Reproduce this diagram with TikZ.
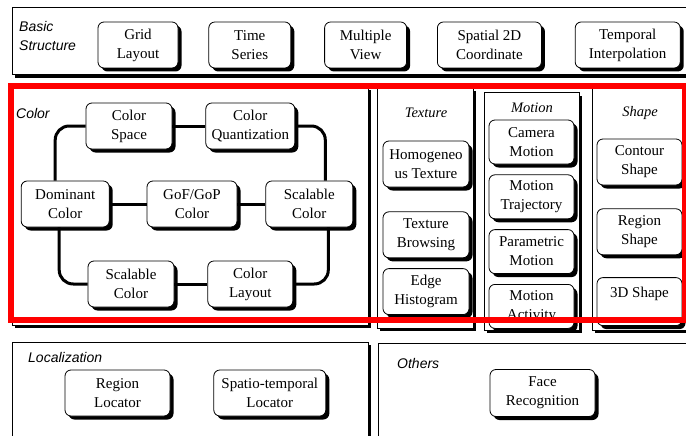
\documentclass[tikz,border=0pt]{standalone}
\usepackage{fontspec}
\setmainfont{Liberation Serif}
\newfontfamily\tagsans{Liberation Sans}
\usetikzlibrary{positioning,shadows}

\begin{document}
\begin{tikzpicture}[x=1pt, y=-1pt, node distance=30pt,
    box/.style={draw, line width=0.8pt, rounded corners=6pt, fill=white, align=center,
      minimum height=46pt, inner xsep=4pt, inner ysep=2pt, font=\fontsize{15}{19}\selectfont,
      drop shadow={shadow xshift=3.5pt, shadow yshift=-3.5pt, opacity=1, fill=black}},
    panel/.style={draw, line width=1pt, fill=white,
      drop shadow={shadow xshift=3pt, shadow yshift=-3pt, opacity=1, fill=black}},
    sanstag/.style={font=\tagsans\fontsize{14}{19}\selectfont\itshape, inner sep=0pt},
    seriftag/.style={font=\fontsize{14.5}{19}\selectfont\itshape, inner sep=0pt},
    link/.style={line width=3pt, rounded corners=14pt}]
   \useasboundingbox (0,0) rectangle (686,436);
   \clip (0,0) rectangle (686,436);

   \draw[panel] (12,8)   rectangle (700,75);
   \draw[panel] (12,87)  rectangle (368,325);
   \draw[panel] (377,88) rectangle (473,328);
   \draw[panel] (484,93) rectangle (579,330);
   \draw[panel] (592,88) rectangle (700,330);
   \draw[panel] (12,342) rectangle (368,450);
   \draw[panel] (378,343) rectangle (700,450);

   \node[sanstag, align=left, anchor=west] (basictag) at (19,35.5) {Basic\\Structure};
   \node[box, minimum width=80pt]  (grid)     at (138,45)          {Grid\\Layout};
   \node[box, minimum width=82pt]  (series)   [right=of grid]      {Time\\Series};
   \node[box, minimum width=82pt]  (multi)    [right=33pt of series] {Multiple\\View};
   \node[box, minimum width=104pt] (spatial)  [right=of multi]     {Spatial 2D\\Coordinate};
   \node[box, minimum width=105pt] (temporal) [right=33pt of spatial] {Temporal\\Interpolation};

   \node[sanstag, anchor=west] (colortag) at (16,113) {Color};
   \node[box, minimum width=86pt] (cs)  at (129,126)          {Color\\Space};
   \node[box, minimum width=89pt] (cq)  [right=33pt of cs]    {Color\\Quantization};
   \node[box, minimum width=90pt] (gof) at (192,204)          {GoF/GoP\\Color};
   \node[box, minimum width=88pt] (dc)  [left=37pt of gof]    {Dominant\\Color};
   \node[box, minimum width=87pt] (scr) [right=28pt of gof]   {Scalable\\Color};
   \node[box, minimum width=86pt] (scb) at (131,284)          {Scalable\\Color};
   \node[box, minimum width=85pt] (cl)  [right=33pt of scb]   {Color\\Layout};

   \draw[link] (cs) -- (cq);
   \draw[link] (dc) -- (gof) -- (scr);
   \draw[link] (scb) -- (cl);
   \draw[link] (cs.west) -| ([xshift=-10pt]dc.north);
   \draw[link] (cq.east) -| ([xshift=16pt]scr.north);
   \draw[link] ([xshift=-6pt]dc.south) |- (scb.west);
   \draw[link] ([xshift=19pt]scr.south) |- (cl.east);

   \node[seriftag] (texturetag) at (426,113) {Texture};
   \node[box, minimum width=86pt] (homog)  at (426,164)          {Homogeneo\\us Texture};
   \node[box, minimum width=86pt] (browse) [below=24pt of homog] {Texture\\Browsing};
   \node[box, minimum width=86pt] (edge)   [below=10pt of browse] {Edge\\Histogram};

   \node[seriftag] (motiontag) at (532,108) {Motion};
   \node[box, minimum width=85pt, minimum height=44pt] (camera) at (531.5,142)      {Camera\\Motion};
   \node[box, minimum width=85pt, minimum height=44pt] (traj)   [below=10pt of camera] {Motion\\Trajectory};
   \node[box, minimum width=85pt, minimum height=44pt] (param)  [below=10pt of traj]   {Parametric\\Motion};
   \node[box, minimum width=85pt, minimum height=44pt] (activ)  [below=10pt of param]  {Motion\\Activity};

   \node[seriftag] (shapetag) at (640,113) {Shape};
   \node[box, minimum width=85pt] (contour) at (639.5,162)         {Contour\\Shape};
   \node[box, minimum width=85pt] (region)  [below=23pt of contour] {Region\\Shape};
   \node[box, minimum width=85pt, minimum height=48pt] (shape3d) [below=22pt of region] {3D Shape\\\mbox{}};

   \node[sanstag, anchor=west] (loctag) at (28,357) {Localization};
   \node[box, minimum width=105pt] (reglocator) at (117.5,393)           {Region\\Locator};
   \node[box, minimum width=112pt] (stlocator)  [right=43pt of reglocator] {Spatio-temporal\\Locator};

   \node[sanstag, anchor=west] (othertag) at (397,363) {Others};
   \node[box, minimum width=105pt, minimum height=47pt] (face) at (542.5,393) {Face\\Recognition};

   \draw[red, line width=6pt] (10.5,86) rectangle (684.5,320);
\end{tikzpicture}
\end{document}
